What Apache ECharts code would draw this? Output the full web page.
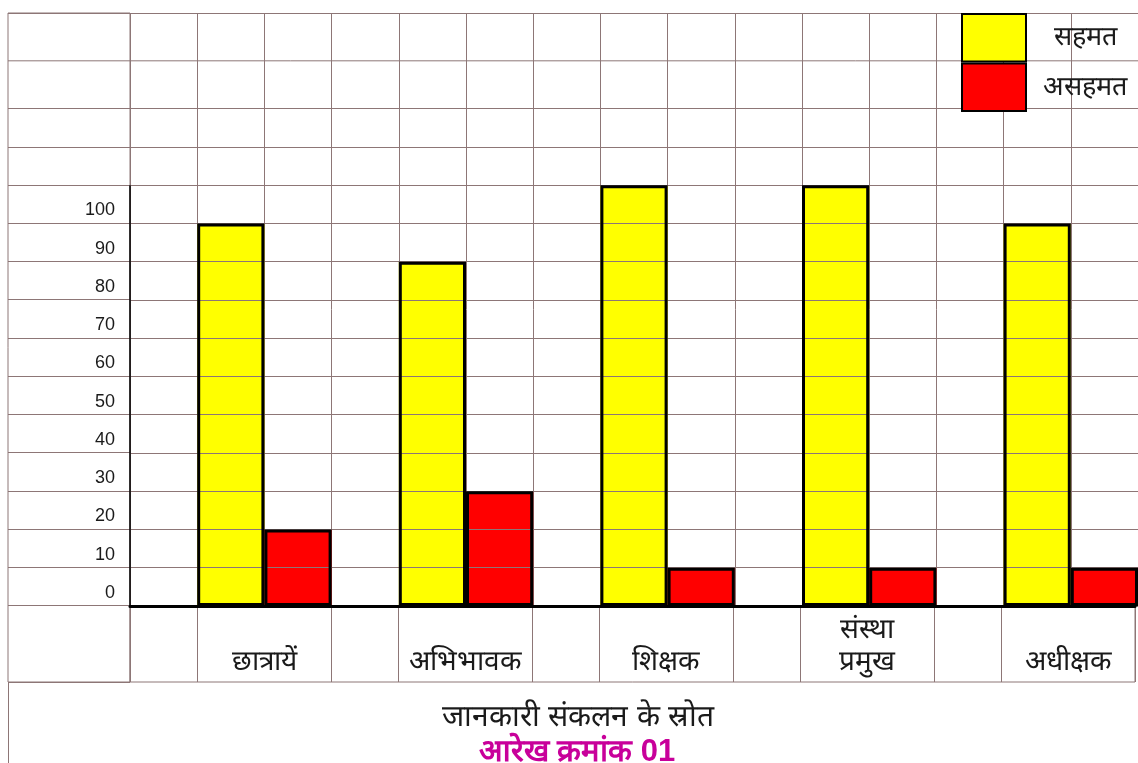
<!DOCTYPE html>
<html>
<head>
<meta charset="utf-8">
<script src="https://cdn.jsdelivr.net/npm/echarts@6/dist/echarts.min.js"></script>
<style>
    html, body { margin: 0; padding: 0; background: #fff; }
    #chart { width: 1138px; height: 763px; }
</style>
</head>
<body>
<div id="chart"></div>
<script>
// जानकारी संकलन के स्रोत
const categories = ['छात्रायें', 'अभिभावक', 'शिक्षक', 'संस्था\nप्रमुख', 'अधीक्षक'];
const agree = [100, 90, 110, 110, 100];     // सहमत
const disagree = [20, 30, 10, 10, 10];     // असहमत
const seriesNames = ['सहमत', 'असहमत'];
const yMin = 0, yMax = 155, yStep = 10, yLabelMax = 100;
const xTitle = 'जानकारी संकलन के स्रोत';
const chartTitle = 'आरेख क्रमांक 01';

const GRID = '#8d7676';
const FONT = '"Liberation Sans", Arial, sans-serif';
const gridLeft = 130, gridTop = 13, baseBottom = 157, rowBottom = 81;

// each group = [gap, sahmat, asahmat] slots, like the sheet columns
let slots = [], yellow = [], red = [];
categories.forEach(function (c, i) {
    slots.push(i + 'g', i + 'y', i + 'r');
    yellow.push('-', agree[i], '-');
    red.push('-', '-', disagree[i]);
});
// label axis: boundaries between slots, label sits between the two bars
let edges = [], edgeLabels = [];
for (let k = 0; k <= slots.length; k++) {
    edges.push('e' + k);
    edgeLabels.push(k % 3 === 2 ? categories[(k - 2) / 3] : '');
}

// hide split lines at 140 / 150 (top rows of sheet are taller)
function lineColors(min) {
    let cols = [];
    for (let v = min; v <= yMax; v += yStep) {
        cols.push(v === 140 || v === 150 || v === -10 ? 'rgba(0,0,0,0)' : GRID);
    }
    cols.push(GRID);
    return cols;
}

const chart = echarts.init(document.getElementById('chart'));

function barSeries(name, data, color, outline) {
    return {
        name: outline ? name + '_edge' : name,
        type: 'bar',
        xAxisIndex: 0,
        yAxisIndex: 0,
        data: data,
        barWidth: '100%',
        barGap: '-100%',
        z: outline ? 4 : 1,
        silent: !!outline,
        itemStyle: outline
            ? {color: 'rgba(0,0,0,0)', borderColor: '#000', borderWidth: 3}
            : {color: color, borderWidth: 0}
    };
}

chart.setOption({
    animation: false,
    backgroundColor: '#fff',
    textStyle: {fontFamily: FONT},
    title: [{
        text: xTitle,
        left: 578, top: 703, textAlign: 'center', padding: 0,
        textStyle: {fontSize: 30, fontWeight: 'normal', color: '#1a1a1a', fontFamily: FONT}
    }, {
        text: chartTitle,
        left: 577, top: 737, textAlign: 'center', padding: 0,
        textStyle: {fontSize: 31, fontWeight: 'bold', color: '#c8009a', fontFamily: FONT}
    }],
    legend: {
        data: seriesNames,
        orient: 'vertical',
        left: 961, top: 13,
        padding: 0,
        itemGap: 0,
        itemWidth: 64,
        itemHeight: 47.5,
        icon: 'rect',
        selectedMode: false,
        itemStyle: {borderColor: '#000', borderWidth: 2},
        formatter: function (name) { return '{c|' + name + '}'; },
        textStyle: {
            fontSize: 27, color: '#1a1a1a', fontFamily: FONT,
            rich: {c: {width: 108, align: 'center', fontSize: 27, color: '#1a1a1a', fontFamily: FONT}}
        }
    },
    grid: [
        {left: gridLeft, right: 0, top: gridTop, bottom: baseBottom},
        {left: 8, width: gridLeft - 8, top: gridTop, bottom: rowBottom, show: true, borderColor: GRID, borderWidth: 1},
        {left: gridLeft, right: 0, top: 763 - baseBottom, bottom: rowBottom, show: true, borderColor: GRID, borderWidth: 1}
    ],
    xAxis: [{
        gridIndex: 0, type: 'category', data: slots, z: 0,
        axisLine: {show: false}, axisTick: {show: false}, axisLabel: {show: false},
        splitLine: {show: true, lineStyle: {color: GRID, width: 1}}
    }, {
        gridIndex: 1, type: 'category', data: ['a'], show: false
    }, {
        gridIndex: 2, type: 'category', data: edges, boundaryGap: false, position: 'bottom',
        axisLine: {show: false}, axisTick: {show: false},
        axisLabel: {
            inside: true, margin: 4, interval: 0, hideOverlap: false,
            fontSize: 28, color: '#1a1a1a', lineHeight: 32,
            formatter: function (v, idx) { return edgeLabels[idx]; }
        },
        splitLine: {
            show: true,
            interval: function (idx) { return idx % 3 !== 2; },
            lineStyle: {color: GRID, width: 1}
        }
    }, {
        gridIndex: 2, type: 'category', data: edges, boundaryGap: false, position: 'top', z: 6,
        axisLine: {show: true, lineStyle: {color: '#000', width: 3}},
        axisTick: {show: false}, axisLabel: {show: false}, splitLine: {show: false}
    }],
    yAxis: [{
        gridIndex: 0, type: 'value', min: yMin, max: yMax, interval: yStep, z: 2,
        axisLine: {show: false}, axisTick: {show: false},
        axisLabel: {
            margin: 15, fontSize: 18, color: '#1a1a1a', verticalAlign: 'bottom',
            padding: [0, 0, 4, 0],
            formatter: function (v) { return v <= yLabelMax ? String(v) : ''; }
        },
        splitLine: {show: true, lineStyle: {color: lineColors(yMin), width: 1}}
    }, {
        gridIndex: 1, type: 'value', min: yMin - 20, max: yMax, interval: yStep,
        axisLine: {show: false}, axisTick: {show: false}, axisLabel: {show: false},
        splitLine: {show: true, lineStyle: {color: lineColors(yMin - 20), width: 1}}
    }, {
        gridIndex: 2, type: 'value', show: false, min: 0, max: 1
    }],
    series: [
        barSeries(seriesNames[0], yellow, '#ffff00', false),
        barSeries(seriesNames[1], red, '#ff0000', false),
        barSeries(seriesNames[0], yellow, null, true),
        barSeries(seriesNames[1], red, null, true)
    ]
});

// extra sheet lines: taller top row, black y axis up to 110, left edge of title row
const yTopRow = chart.convertToPixel({yAxisIndex: 0}, 142.5);
const yZero = chart.convertToPixel({yAxisIndex: 0}, 0);
const yAxisTop = chart.convertToPixel({yAxisIndex: 0}, 110);
chart.setOption({
    graphic: [{
        type: 'line', z: 3, silent: true,
        shape: {x1: 8, y1: yTopRow, x2: 1138, y2: yTopRow},
        style: {stroke: GRID, lineWidth: 1}
    }, {
        type: 'line', z: 5, silent: true,
        shape: {x1: gridLeft, y1: yAxisTop, x2: gridLeft, y2: yZero},
        style: {stroke: '#000', lineWidth: 1.5}
    }, {
        type: 'line', z: 3, silent: true,
        shape: {x1: 8.5, y1: 682, x2: 8.5, y2: 763},
        style: {stroke: GRID, lineWidth: 1}
    }]
});
</script>
</body>
</html>
